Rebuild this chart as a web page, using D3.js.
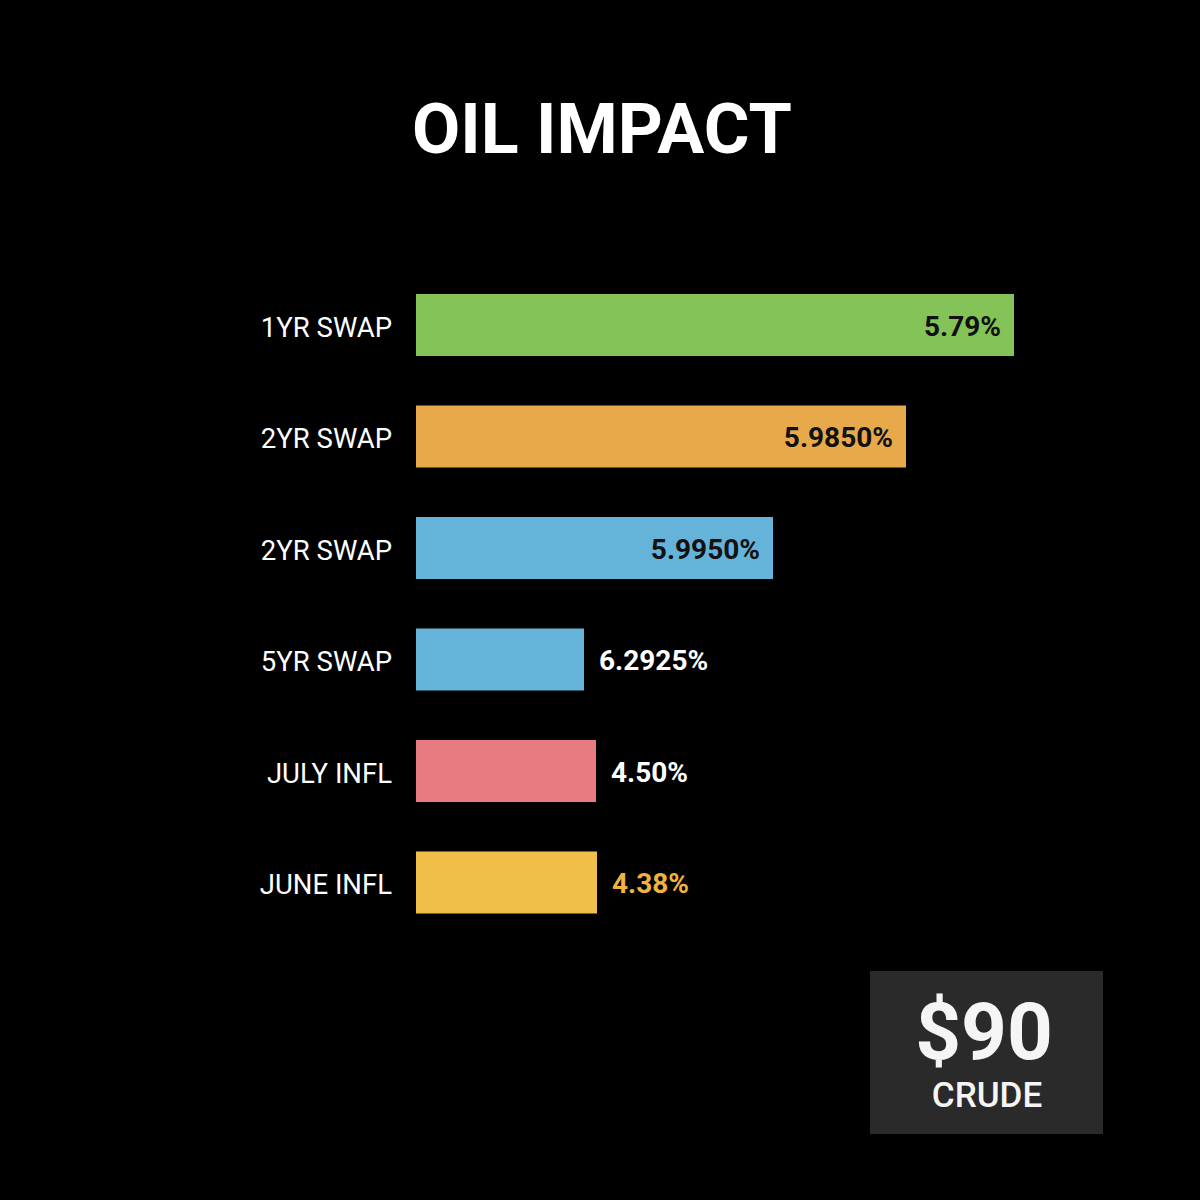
<!DOCTYPE html>
<html>
<head>
<meta charset="utf-8">
<script src="https://cdn.jsdelivr.net/npm/d3@7.9.0/dist/d3.min.js"></script>
<style>
  html, body { margin: 0; padding: 0; background: #000; }
  svg { display: block; font-family: Roboto, "Noto Sans", sans-serif; }
</style>
</head>
<body>
<svg id="chart" width="1200" height="1200"></svg>
<script>
// row labels, top to bottom
const categories = ['1YR SWAP', '2YR SWAP', '2YR SWAP', '5YR SWAP', 'JULY INFL', 'JUNE INFL'];
// drawn bar lengths as they appear in the picture (not proportional to the printed values)
const barLengths = [598, 490, 357, 168, 180, 181];
// printed value labels
const valueLabels = ['5.79%', '5.9850%', '5.9950%', '6.2925%', '4.50%', '4.38%'];
const barColors = ['#84c357', '#e8a94a', '#66b3d9', '#66b3d9', '#e87b82', '#efbf4a'];
// label inside the bar or just after it
const labelInside = [true, true, true, false, false, false];
const labelColors = ['#111111', '#111111', '#111111', '#ffffff', '#ffffff', '#efb33e'];

const svg = d3.select('#chart');

svg.append('rect')
  .attr('width', 1200)
  .attr('height', 1200)
  .attr('fill', '#000');

svg.append('text')
  .attr('x', 602)
  .attr('y', 153)
  .attr('text-anchor', 'middle')
  .attr('fill', '#fff')
  .attr('font-size', 70)
  .attr('font-weight', 700)
  .text('OIL IMPACT');

const x = d3.scaleLinear().domain([0, 600]).range([416, 1016]);
const y = d3.scaleBand()
  .domain(d3.range(categories.length))
  .range([244.5, 963])
  .padding(0.444);

const rows = svg.append('g')
  .selectAll('g')
  .data(categories.map((name, i) => ({
    name,
    len: barLengths[i],
    label: valueLabels[i],
    color: barColors[i],
    inside: labelInside[i],
    labelColor: labelColors[i]
  })))
  .join('g')
  .attr('transform', (d, i) => `translate(0,${y(i)})`);

rows.append('rect')
  .attr('x', x(0))
  .attr('width', (d) => x(d.len) - x(0))
  .attr('height', y.bandwidth())
  .attr('fill', (d) => d.color);

rows.append('text')
  .attr('x', 392)
  .attr('y', y.bandwidth() / 2 + 2)
  .attr('dy', '0.35em')
  .attr('text-anchor', 'end')
  .attr('fill', '#fff')
  .attr('font-size', 27.5)
  .text((d) => d.name);

rows.append('text')
  .attr('x', (d) => d.inside ? x(d.len) - 13 : x(d.len) + 15)
  .attr('y', y.bandwidth() / 2 + 1)
  .attr('dy', '0.35em')
  .attr('text-anchor', (d) => d.inside ? 'end' : 'start')
  .attr('fill', (d) => d.labelColor)
  .attr('font-size', 28)
  .attr('font-weight', 700)
  .text((d) => d.label);

// crude price box
const box = svg.append('g');
box.append('rect')
  .attr('x', 870)
  .attr('y', 971)
  .attr('width', 233)
  .attr('height', 163)
  .attr('fill', '#2a2a2a');

box.append('text')
  .attr('x', 984)
  .attr('y', 1059)
  .attr('text-anchor', 'middle')
  .attr('fill', '#f5f5f5')
  .attr('font-size', 80)
  .attr('font-weight', 700)
  .text('$90');

box.append('text')
  .attr('x', 987)
  .attr('y', 1107)
  .attr('text-anchor', 'middle')
  .attr('fill', '#f5f5f5')
  .attr('font-size', 35)
  .attr('font-weight', 500)
  .text('CRUDE');
</script>
</body>
</html>
